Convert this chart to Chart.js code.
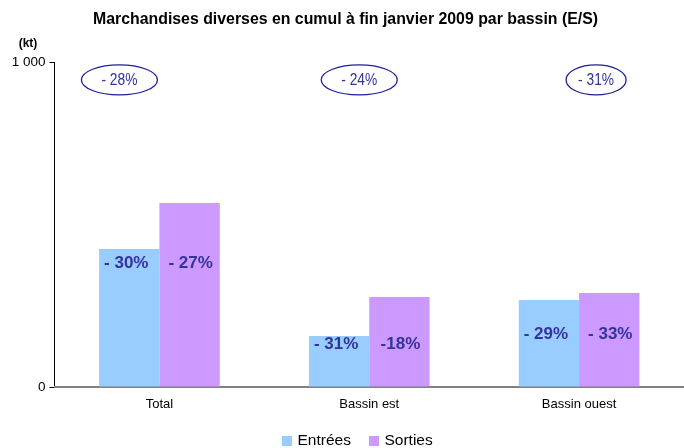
<!DOCTYPE html>
<html><head><meta charset="utf-8">
<script src="https://cdn.jsdelivr.net/npm/chart.js@4/dist/chart.umd.min.js"></script>
<style>html,body{margin:0;padding:0;background:#fff}#wrap{width:684px;height:448px;position:relative}</style>
</head><body><div id="wrap"><canvas id="c" width="684" height="448"></canvas></div>
<script>
const categories = ['Total', 'Bassin est', 'Bassin ouest'];
const entrees = [425, 157, 268];
const sorties = [566, 277, 289];
const entreesPct = ['- 30%', '- 31%', '- 29%'];
const sortiesPct = ['- 27%', '-18%', '- 33%'];
const totalPct = ['- 28%', '- 24%', '- 31%'];
const yTicks = [0, 1000];

const SANS = '"Liberation Sans", Arial, sans-serif';

function fitText(ctx, text, cx, cy, width) {
  const w = ctx.measureText(text).width;
  const s = width / w;
  ctx.save();
  ctx.translate(cx, cy);
  ctx.scale(s, 1);
  ctx.fillText(text, 0, 0);
  ctx.restore();
}

const overlay = {
  id: 'overlay',
  afterDraw(chart) {
    const ctx = chart.ctx, xs = chart.scales.x, ys = chart.scales.y;
    ctx.save();
    ctx.fillStyle = '#000';
    ctx.textAlign = 'center'; ctx.textBaseline = 'middle';
    // title
    ctx.font = 'bold 16px ' + SANS;
    fitText(ctx, 'Marchandises diverses en cumul à fin janvier 2009 par bassin (E/S)', 345.5, 20, 505);
    // unit
    ctx.font = 'bold 12px ' + SANS;
    ctx.fillText('(kt)', 28, 44);
    // ellipses with total change
    const ellOff = [-40, -10, 17], ellW = [38, 38, 30];
    ctx.lineWidth = 1.3; ctx.strokeStyle = '#1f1f99';
    totalPct.forEach((t, i) => {
      const cx = xs.getPixelForValue(i) + ellOff[i], cy = ys.getPixelForValue(945);
      ctx.beginPath(); ctx.ellipse(cx, cy, ellW[i], 15, 0, 0, Math.PI * 2); ctx.stroke();
      ctx.fillStyle = '#333399'; ctx.font = '16px ' + SANS;
      fitText(ctx, t, cx, cy + 1, 36);
    });
    // bar labels
    const lvl = [382, 132, 163];
    ctx.font = 'bold 17px ' + SANS; ctx.fillStyle = '#333399';
    const m0 = chart.getDatasetMeta(0), m1 = chart.getDatasetMeta(1);
    categories.forEach((c, i) => {
      const y = ys.getPixelForValue(lvl[i]);
      ctx.fillText(entreesPct[i], m0.data[i].x - 3, y);
      ctx.fillText(sortiesPct[i], m1.data[i].x + 1, y);
    });
    // legend
    ctx.font = '15.5px ' + SANS; ctx.textAlign = 'left';
    const lxs = [282, 369];
    chart.data.datasets.forEach((ds, i) => {
      const lx = lxs[i];
      ctx.fillStyle = ds.backgroundColor; ctx.fillRect(lx, 436, 10, 10);
      ctx.fillStyle = '#000'; ctx.fillText(ds.label, lx + 15.5, 441);
    });
    ctx.restore();
  }
};

new Chart(document.getElementById('c'), {
  type: 'bar',
  data: {
    labels: categories,
    datasets: [
      { label: 'Entrées', data: entrees, backgroundColor: '#99CCFF' },
      { label: 'Sorties', data: sorties, backgroundColor: '#CC99FF' }
    ]
  },
  options: {
    responsive: false, animation: false,
    categoryPercentage: 0.575, barPercentage: 1,
    layout: { padding: { top: 62, left: 0, right: -2, bottom: 0 } },
    plugins: { legend: { display: false }, title: { display: false }, tooltip: { enabled: false } },
    scales: {
      y: {
        min: 0, max: 1000,
        afterFit(s) { s.width = 54.5; },
        afterBuildTicks(s) { s.ticks = yTicks.map(v => ({ value: v })); },
        ticks: { color: '#000', font: { family: SANS, size: 13.5 }, padding: 4,
          callback: v => v >= 1000 ? '1 000' : String(v) },
        grid: { drawOnChartArea: false, drawTicks: true, tickLength: 5, color: '#000' },
        border: { color: '#000', width: 1 }
      },
      x: {
        afterFit(s) { s.height = 61; },
        ticks: { color: '#000', font: { family: SANS, size: 13 }, padding: 10 },
        grid: { display: false, drawTicks: false },
        border: { color: '#808080', width: 2 }
      }
    }
  },
  plugins: [overlay]
});
</script></body></html>
